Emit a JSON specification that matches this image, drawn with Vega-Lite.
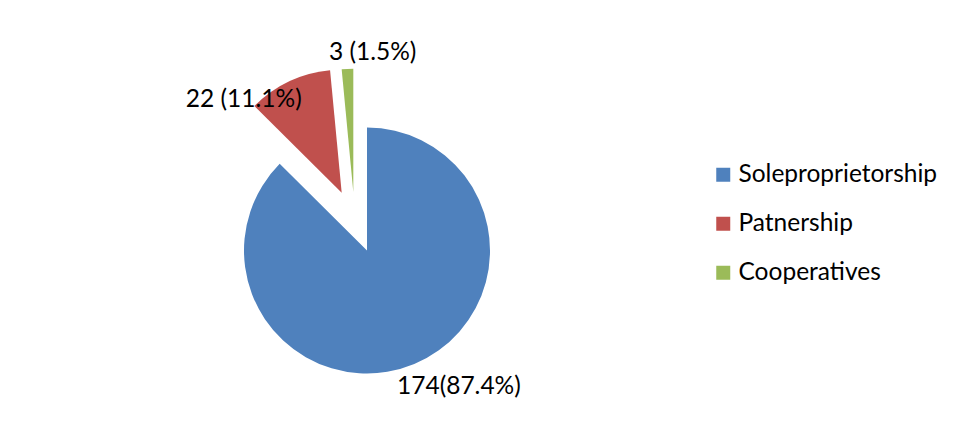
{
  "$schema": "https://vega.github.io/schema/vega-lite/v6.json",
  "autosize": "none",
  "width": 246,
  "height": 246,
  "padding": {"left": 244, "top": 127.5, "right": 466, "bottom": 50.5},
  "background": "white",
  "config": {"view": {"stroke": null}},
  "data": {
    "values": [
      {"category": "Soleproprietorship", "count": 174, "label": "174(87.4%)"},
      {"category": "Patnership", "count": 22, "label": "22 (11.1%)"},
      {"category": "Cooperatives", "count": 3, "label": "3 (1.5%)"}
    ]
  },
  "transform": [
    {"stack": "count", "groupby": [], "as": ["start", "end"], "sort": [{"field": "category", "order": "descending"}]},
    {"calculate": "(datum.start + datum.end) / 2", "as": "mid"}
  ],
  "layer": [
    {
      "transform": [{"filter": "datum.category === 'Soleproprietorship'"}],
      "mark": {"type": "arc", "outerRadius": 123},
      "encoding": {
        "theta": {"field": "start", "type": "quantitative", "stack": null, "scale": {"domain": [0, 199]}},
        "theta2": {"field": "end"},
        "color": {
          "field": "category", "type": "nominal",
          "scale": {"domain": ["Soleproprietorship", "Patnership", "Cooperatives"], "range": ["#4F81BD", "#C0504D", "#9BBB59"]},
          "legend": {
            "title": null, "orient": "none", "legendX": 467, "legendY": 35,
            "padding": 0, "symbolType": "square", "symbolSize": 196, "symbolStrokeWidth": 0,
            "labelFont": "Lato", "labelFontSize": 24.5, "labelColor": "#000000", "labelOffset": 3,
            "rowPadding": 24, "labelLimit": 400
          }
        }
      }
    },
    {
      "transform": [{"filter": "datum.category === 'Patnership'"}],
      "mark": {"type": "arc", "outerRadius": 123, "xOffset": -25.3, "yOffset": -57.8},
      "encoding": {
        "theta": {"field": "start", "type": "quantitative", "stack": null},
        "theta2": {"field": "end"},
        "color": {"field": "category", "type": "nominal"}
      }
    },
    {
      "transform": [{"filter": "datum.category === 'Cooperatives'"}],
      "mark": {"type": "arc", "outerRadius": 123, "xOffset": -13.7, "yOffset": -58.8},
      "encoding": {
        "theta": {"field": "start", "type": "quantitative", "stack": null},
        "theta2": {"field": "end"},
        "color": {"field": "category", "type": "nominal"}
      }
    },
    {
      "transform": [{"filter": "datum.category === 'Soleproprietorship'"}],
      "mark": {"type": "text", "radius": 148, "dx": 35, "font": "Lato", "fontSize": 24.5, "color": "#000000", "align": "center", "baseline": "middle"},
      "encoding": {
        "theta": {"field": "mid", "type": "quantitative", "stack": null},
        "text": {"field": "label"}
      }
    },
    {
      "transform": [{"filter": "datum.category === 'Patnership'"}],
      "mark": {"type": "text", "radius": 166.5, "dx": -52, "font": "Lato", "fontSize": 24.5, "color": "#000000", "align": "center", "baseline": "middle"},
      "encoding": {
        "theta": {"field": "mid", "type": "quantitative", "stack": null},
        "text": {"field": "label"}
      }
    },
    {
      "transform": [{"filter": "datum.category === 'Cooperatives'"}],
      "mark": {"type": "text", "radius": 197.4, "dx": 15, "font": "Lato", "fontSize": 24.5, "color": "#000000", "align": "center", "baseline": "middle"},
      "encoding": {
        "theta": {"field": "mid", "type": "quantitative", "stack": null},
        "text": {"field": "label"}
      }
    }
  ]
}
